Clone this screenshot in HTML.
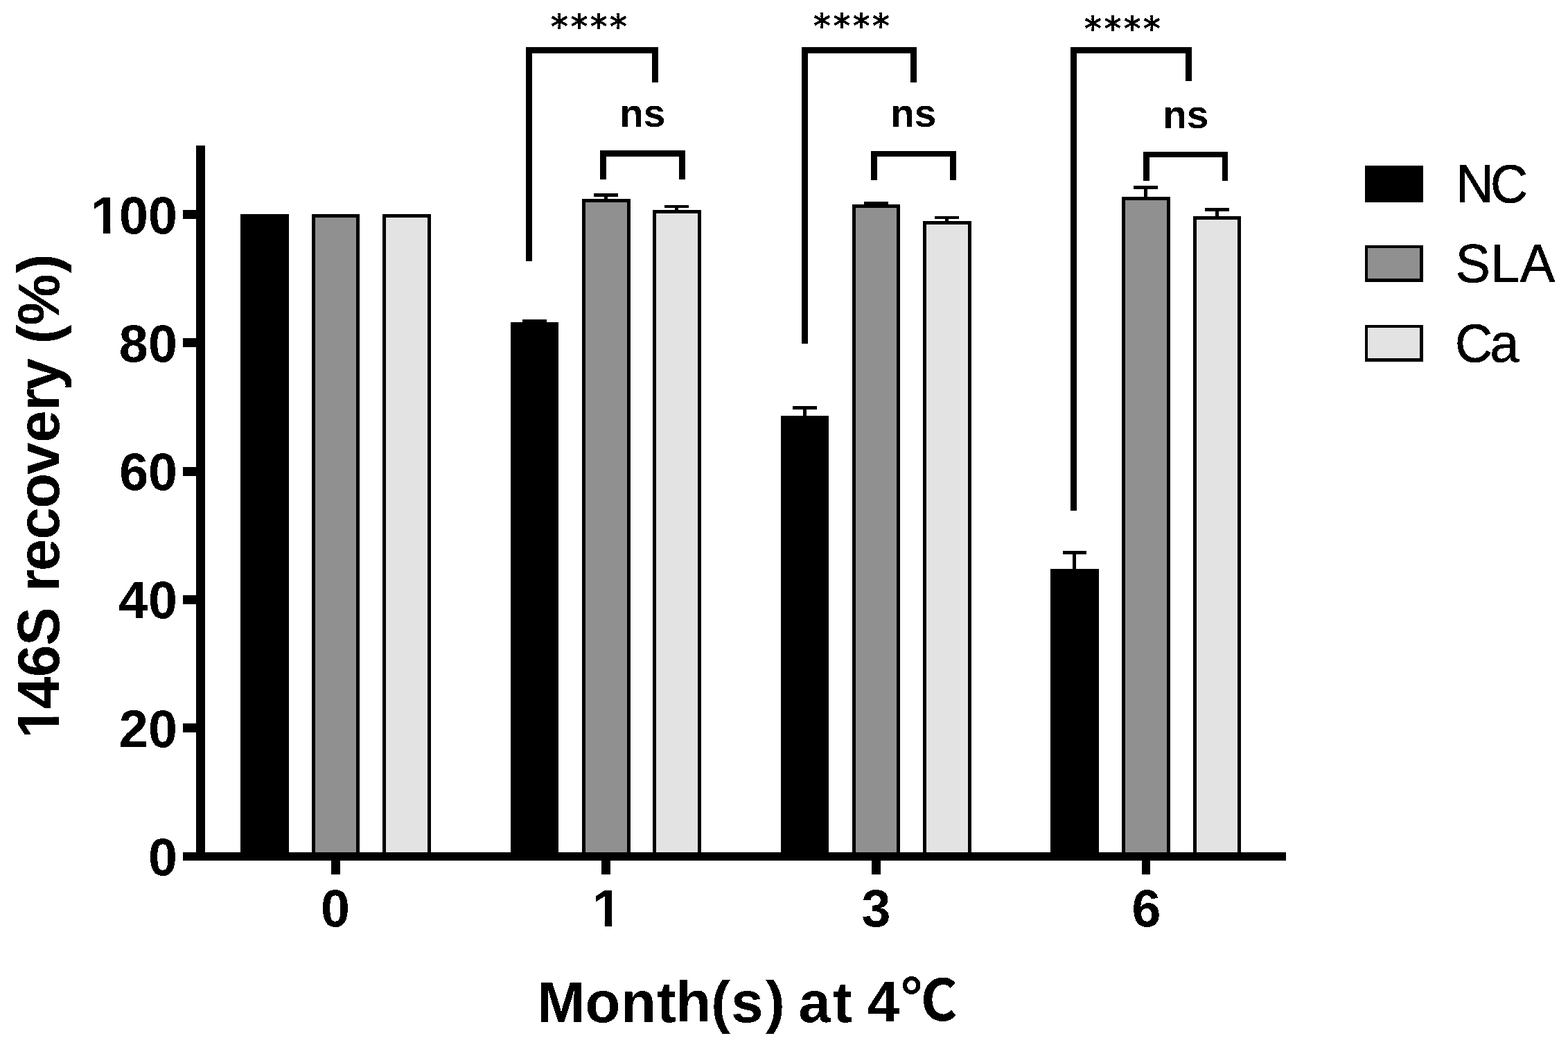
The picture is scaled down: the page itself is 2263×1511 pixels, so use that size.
<!DOCTYPE html>
<html lang="en">
<head>
<meta charset="utf-8">
<title>146S recovery (%) by Month(s) at 4℃</title>
<style>
html,body{margin:0;padding:0;background:#fff;}
body{width:2263px;height:1511px;overflow:hidden;}
svg{display:block;}
text{font-family:"Liberation Sans","Noto Sans CJK KR",sans-serif;fill:#000;}
text.st{font-family:"DejaVu Sans","Liberation Sans",sans-serif;}
text.lg{stroke:#000;stroke-width:0.7px;}
</style>
</head>
<body>
<svg width="2263" height="1511" viewBox="0 0 2263 1511">
<rect x="0" y="0" width="2263" height="1511" fill="#fff"/>
<defs>
<filter id="hard" filterUnits="userSpaceOnUse" x="0" y="0" width="2263" height="1511" color-interpolation-filters="sRGB">
<feComponentTransfer><feFuncA type="discrete" tableValues="0 1"/></feComponentTransfer>
</filter>
</defs>
<g shape-rendering="crispEdges" fill="#000">
<!-- bars: NC (black), SLA (grey), Ca (light) for months 0, 1, 3, 6 -->
<rect x="347" y="309" width="70" height="921"/>
<rect x="450" y="309" width="69" height="921"/>
<rect x="455" y="314" width="59" height="916" fill="#909090"/>
<rect x="552" y="309" width="70" height="921"/>
<rect x="557" y="314" width="60" height="916" fill="#e3e3e3"/>
<rect x="737" y="465" width="69" height="765"/>
<rect x="840" y="287" width="70" height="943"/>
<rect x="845" y="292" width="60" height="938" fill="#909090"/>
<rect x="942" y="303" width="70" height="927"/>
<rect x="947" y="308" width="60" height="922" fill="#e3e3e3"/>
<rect x="1127" y="600" width="69" height="630"/>
<rect x="1230" y="295" width="69" height="935"/>
<rect x="1235" y="300" width="59" height="930" fill="#909090"/>
<rect x="1332" y="319" width="70" height="911"/>
<rect x="1337" y="324" width="60" height="906" fill="#e3e3e3"/>
<rect x="1516" y="821" width="70" height="409"/>
<rect x="1619" y="284" width="70" height="946"/>
<rect x="1624" y="289" width="60" height="941" fill="#909090"/>
<rect x="1722" y="312" width="69" height="918"/>
<rect x="1727" y="317" width="59" height="913" fill="#e3e3e3"/>
<!-- error bars -->
<rect x="754" y="461" width="35" height="5"/>
<rect x="769" y="461" width="5" height="5"/>
<rect x="857" y="279" width="35" height="5"/>
<rect x="872" y="279" width="5" height="9"/>
<rect x="959" y="296" width="35" height="4"/>
<rect x="974" y="296" width="5" height="8"/>
<rect x="1144" y="586" width="35" height="5"/>
<rect x="1159" y="586" width="5" height="15"/>
<rect x="1247" y="291" width="35" height="5"/>
<rect x="1262" y="291" width="5" height="5"/>
<rect x="1349" y="312" width="35" height="4"/>
<rect x="1364" y="312" width="5" height="8"/>
<rect x="1534" y="795" width="34" height="5"/>
<rect x="1548" y="795" width="5" height="27"/>
<rect x="1636" y="268" width="35" height="5"/>
<rect x="1651" y="268" width="5" height="17"/>
<rect x="1739" y="300" width="35" height="5"/>
<rect x="1754" y="300" width="5" height="13"/>
<!-- axes and ticks -->
<rect x="283" y="210" width="13" height="1032"/>
<rect x="264" y="1230" width="1592" height="12"/>
<rect x="264" y="303" width="20" height="13"/>
<rect x="264" y="488" width="20" height="13"/>
<rect x="264" y="674" width="20" height="13"/>
<rect x="264" y="859" width="20" height="13"/>
<rect x="264" y="1044" width="20" height="13"/>
<rect x="478" y="1241" width="13" height="21"/>
<rect x="868" y="1241" width="13" height="21"/>
<rect x="1258" y="1241" width="13" height="21"/>
<rect x="1648" y="1241" width="12" height="21"/>
<!-- significance brackets -->
<rect x="759" y="68" width="191" height="9"/>
<rect x="759" y="68" width="9" height="309"/>
<rect x="941" y="68" width="9" height="51"/>
<rect x="1157" y="68" width="166" height="9"/>
<rect x="1157" y="68" width="9" height="428"/>
<rect x="1314" y="68" width="9" height="51"/>
<rect x="1545" y="68" width="175" height="9"/>
<rect x="1545" y="68" width="9" height="669"/>
<rect x="1711" y="68" width="9" height="49"/>
<rect x="866" y="217" width="123" height="9"/>
<rect x="866" y="217" width="9" height="42"/>
<rect x="980" y="217" width="9" height="42"/>
<rect x="1257" y="218" width="123" height="8"/>
<rect x="1257" y="218" width="9" height="42"/>
<rect x="1371" y="218" width="9" height="42"/>
<rect x="1650" y="219" width="122" height="8"/>
<rect x="1650" y="219" width="9" height="42"/>
<rect x="1764" y="219" width="8" height="42"/>
<!-- legend swatches -->
<rect x="1970" y="239" width="84" height="53"/>
<rect x="1970" y="354" width="84" height="53"/>
<rect x="1974" y="358" width="75" height="44" fill="#909090"/>
<rect x="1970" y="469" width="84" height="53"/>
<rect x="1974" y="473" width="75" height="44" fill="#e3e3e3"/>
</g>
<g filter="url(#hard)">
<!-- y axis tick labels -->
<text x="131.23 172.09 214.09" y="333.91" transform="scale(1,1.01)" font-size="75.4" font-weight="bold">100</text>
<text x="171.75 214.09" y="517.08" transform="scale(1,1.01)" font-size="75.4" font-weight="bold">80</text>
<text x="172.26 214.09" y="700.25" transform="scale(1,1.01)" font-size="75.4" font-weight="bold">60</text>
<text x="171.16 214.09" y="883.42" transform="scale(1,1.01)" font-size="75.4" font-weight="bold">40</text>
<text x="171.74 214.09" y="1067.57" transform="scale(1,1.01)" font-size="75.4" font-weight="bold">20</text>
<text x="214.09" y="1250.74" transform="scale(1,1.01)" font-size="75.4" font-weight="bold">0</text>
<!-- x axis tick labels -->
<text x="463.09" y="1324.01" transform="scale(1,1.01)" font-size="75.4" font-weight="bold">0</text>
<text x="855.23" y="1324.01" transform="scale(1,1.01)" font-size="75.4" font-weight="bold">1</text>
<text x="1243.53" y="1324.01" transform="scale(1,1.01)" font-size="75.4" font-weight="bold">3</text>
<text x="1633.51" y="1324.01" transform="scale(1,1.01)" font-size="75.4" font-weight="bold">6</text>
<!-- significance labels -->
<text class="st" x="795.07" y="53.61" transform="scale(1,1.04)" font-size="47.6" font-weight="bold" letter-spacing="3.43">****</text>
<text class="st" x="1174.07" y="52.65" transform="scale(1,1.04)" font-size="47.6" font-weight="bold" letter-spacing="3.43">****</text>
<text class="st" x="1565.07" y="56.49" transform="scale(1,1.04)" font-size="47.6" font-weight="bold" letter-spacing="3.43">****</text>
<text x="894.27" y="183.45" font-size="56.6" font-weight="bold">ns</text>
<text x="1285.27" y="183.45" font-size="56.6" font-weight="bold">ns</text>
<text x="1678.27" y="185.45" font-size="56.6" font-weight="bold">ns</text>
<!-- legend labels -->
<text class="lg" x="2101.4 2150.94" y="280.77" transform="scale(1,1.04)" font-size="75" font-weight="normal">NC</text>
<text class="lg" x="2100.76 2151.31 2193.99" y="391.35" transform="scale(1,1.04)" font-size="75" font-weight="normal">SLA</text>
<text class="lg" x="2099.94 2150.55" y="501.92" transform="scale(1,1.04)" font-size="75" font-weight="normal">Ca</text>
<!-- x axis title -->
<text x="775.26 844.61 895.95 948.03 975.18 1026.3 1055.18 1104.96 1132.7 1152.5 1202.23 1229.97 1251.83" y="1475" font-size="83.3" font-weight="bold">Month(s) at 4<tspan class="cj" x="1300.6" y="1472.4" font-size="81">℃</tspan></text>
<g fill="#fff"><rect x="134.48" y="328.88" width="14.35" height="9.87"/><rect x="159.17" y="328.88" width="13.39" height="9.87"/><rect x="858.48" y="1328.88" width="14.35" height="9.87"/><rect x="883.17" y="1328.88" width="13.39" height="9.87"/></g>
<!-- y axis title (rotated) -->
<g transform="rotate(-90)">
<text x="-1065.56 -1023.02 -977.13 -931.65 -876.09 -853.97 -823.97 -778.42 -733.79 -685.09 -638.72 -592.97 -563.37 -517.04 -496.3 -469.52 -394.24" y="83.33" transform="scale(1,1.02)" font-size="83.3" font-weight="bold">146S recovery (%)</text>
<g fill="#fff"><rect x="-1061.81" y="75.73" width="15.7" height="10.77"/><rect x="-1034.69" y="75.73" width="13.69" height="10.77"/></g>
</g>
</g>
</svg>
</body>
</html>
